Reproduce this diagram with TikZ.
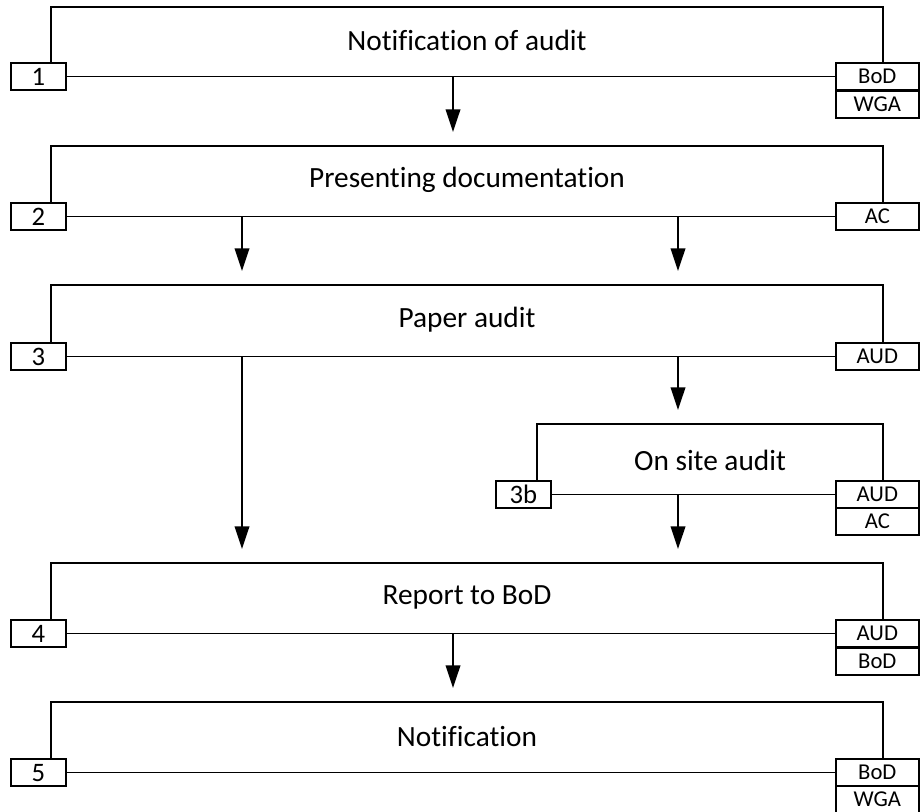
\documentclass[tikz,border=0pt]{standalone}
\usepackage{fontspec}
\setmainfont{Carlito}[Ligatures=NoCommon]
\usetikzlibrary{arrows.meta}
\begin{document}
\begin{tikzpicture}[x=0.75pt,y=-0.75pt, line width=1.2pt,
 numbox/.style={draw, fill=white, minimum width=41.25pt, minimum height=20.6pt, inner sep=0pt, anchor=north west, font=\fontsize{20}{20}\selectfont},
 rolebox/.style={draw, fill=white, minimum width=62.25pt, minimum height=20.6pt, inner sep=0pt, anchor=north west, font=\fontsize{17}{17}\selectfont},
 title/.style={font=\fontsize{22}{22}\selectfont},
 flow/.style={-{Triangle[length=17pt,width=11pt]}}]
\useasboundingbox (0,0) rectangle (924,812);
% step 1
\coordinate (t1l) at (51,7); \coordinate (t1r) at (883,7);
\node[numbox] (n1) at (10,62) {1};
\node[rolebox] (r1a) at (835,62) {BoD};
\node[rolebox] (r1b) at (835,90) {WGA};
\draw (t1l |- n1.north) -- (t1l) -- (t1r) -- (t1r |- r1a.north);
\draw (n1.east) -- (r1a.west);
\node[title] (s1) at (467,40) {Notification of audit};
% step 2
\coordinate (t2l) at (51,146); \coordinate (t2r) at (883,146);
\node[numbox] (n2) at (10,202) {2};
\node[rolebox] (r2a) at (835,202) {AC};
\draw (t2l |- n2.north) -- (t2l) -- (t2r) -- (t2r |- r2a.north);
\draw (n2.east) -- (r2a.west);
\node[title] (s2) at (467,180) {Presenting documentation};
% step 3
\coordinate (t3l) at (51,285); \coordinate (t3r) at (883,285);
\node[numbox] (n3) at (10,342) {3};
\node[rolebox] (r3a) at (835,342) {AUD};
\draw (t3l |- n3.north) -- (t3l) -- (t3r) -- (t3r |- r3a.north);
\draw (n3.east) -- (r3a.west);
\node[title] (s3) at (467,320) {Paper audit};
% step 3b
\coordinate (t3bl) at (537,424); \coordinate (t3br) at (883,424);
\node[numbox] (n3b) at (495,480) {3b};
\node[rolebox] (r3ba) at (835,480) {AUD};
\node[rolebox] (r3bb) at (835,507) {AC};
\draw (t3bl |- n3b.north) -- (t3bl) -- (t3br) -- (t3br |- r3ba.north);
\draw (n3b.east) -- (r3ba.west);
\node[title] (s3b) at (710,460) {On site audit};
% step 4
\coordinate (t4l) at (51,563); \coordinate (t4r) at (883,563);
\node[numbox] (n4) at (10,619) {4};
\node[rolebox] (r4a) at (835,619) {AUD};
\node[rolebox] (r4b) at (835,647) {BoD};
\draw (t4l |- n4.north) -- (t4l) -- (t4r) -- (t4r |- r4a.north);
\draw (n4.east) -- (r4a.west);
\node[title] (s4) at (467,597) {Report to BoD};
% step 5
\coordinate (t5l) at (51,702); \coordinate (t5r) at (883,702);
\node[numbox] (n5) at (10,758) {5};
\node[rolebox] (r5a) at (835,758) {BoD};
\node[rolebox] (r5b) at (835,785) {WGA};
\draw (t5l |- n5.north) -- (t5l) -- (t5r) -- (t5r |- r5a.north);
\draw (n5.east) -- (r5a.west);
\node[title] (s5) at (467,737) {Notification};
% arrows
\coordinate (a1) at (453,132);
\coordinate (a2l) at (242,271);
\coordinate (a2r) at (678,271);
\coordinate (a3l) at (242,549);
\coordinate (a3r) at (678,410);
\coordinate (a3b) at (678,549);
\coordinate (a4) at (453,688);
\draw[flow] (a1 |- n1.east) -- (a1);
\draw[flow] (a2l |- n2.east) -- (a2l);
\draw[flow] (a2r |- n2.east) -- (a2r);
\draw[flow] (a3l |- n3.east) -- (a3l);
\draw[flow] (a3r |- n3.east) -- (a3r);
\draw[flow] (a3b |- n3b.east) -- (a3b);
\draw[flow] (a4 |- n4.east) -- (a4);
\end{tikzpicture}
\end{document}
